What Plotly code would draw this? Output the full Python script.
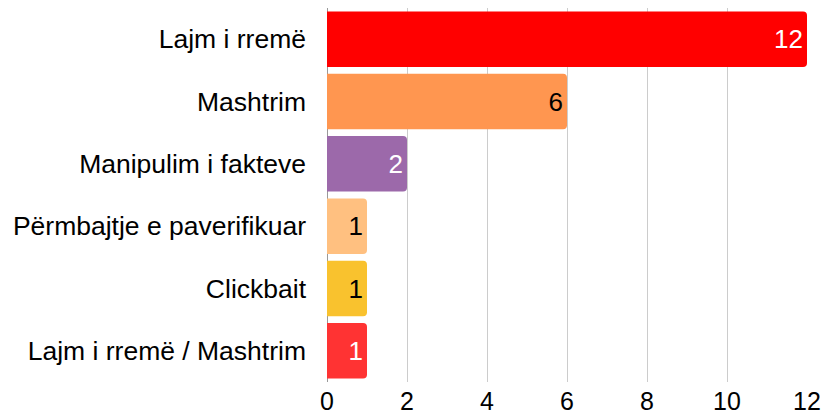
import plotly.graph_objects as go

categories = ["Lajm i rremë", "Mashtrim", "Manipulim i fakteve",
              "Përmbajtje e paverifikuar", "Clickbait", "Lajm i rremë / Mashtrim"]
values = [12, 6, 2, 1, 1, 1]
colors = ["#FF0000", "#FF9650", "#9C69AA", "#FFC080", "#F9C22E", "#FF3333"]
text_colors = ["white", "black", "white", "black", "black", "white"]

fig = go.Figure(go.Bar(
    y=categories, x=values, orientation="h",
    marker=dict(color=colors, cornerradius=4, line=dict(width=0)),
    text=[str(v) for v in values], textposition="inside",
    insidetextanchor="end",
    textfont=dict(family="Liberation Sans", size=26, color=text_colors),
    hoverinfo="skip",
))
fig.update_layout(
    width=825, height=414,
    margin=dict(l=327, r=18, t=8, b=32),
    plot_bgcolor="white", paper_bgcolor="white",
    bargap=0.11, showlegend=False,
    font=dict(family="Liberation Sans", size=26, color="black"),
    uniformtext=dict(mode=False),
)
fig.update_yaxes(autorange="reversed", ticklabelstandoff=20, showgrid=False,
                 tickfont=dict(size=26.5), ticks="", automargin=False)
fig.update_xaxes(range=[0, 12], dtick=2, showgrid=True, gridcolor="#CCCCCC",
                 gridwidth=1, zeroline=True, zerolinecolor="#999999", zerolinewidth=1,
                 tickfont=dict(size=25), ticks="", ticklabelstandoff=2, automargin=False)
fig.write_html("out.html", config={"displayModeBar": False, "staticPlot": True},
               post_script="document.body.style.margin='0';")
